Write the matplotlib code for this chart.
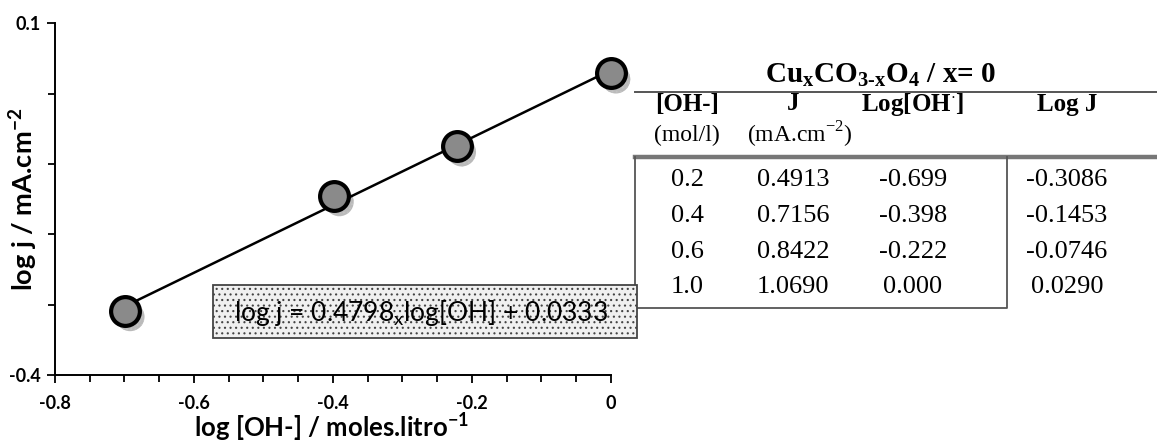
import numpy as np
import matplotlib
matplotlib.use("Agg")
import matplotlib.pyplot as plt
from matplotlib import transforms
from matplotlib.ticker import MultipleLocator, FixedLocator
from matplotlib.patches import Rectangle
from matplotlib.lines import Line2D

plt.rcParams['mathtext.fontset'] = 'custom'
plt.rcParams['mathtext.rm'] = 'Liberation Serif'
plt.rcParams['mathtext.bf'] = 'Liberation Serif:bold'
plt.rcParams['hatch.color'] = '#c4c4c4'
plt.rcParams['hatch.linewidth'] = 0.8

# Data table
oh_conc = ["0.2", "0.4", "0.6", "1.0"]
j_vals = ["0.4913", "0.7156", "0.8422", "1.0690"]
log_oh = [-0.699, -0.398, -0.222, 0.000]
log_j = [-0.3086, -0.1453, -0.0746, 0.0290]
log_oh_labels = ["-0.699", "-0.398", "-0.222", "0.000"]
log_j_labels = ["-0.3086", "-0.1453", "-0.0746", "0.0290"]

# Linear fit
slope = 0.4798
intercept = 0.0333

fig = plt.figure(figsize=(11.57, 4.45), dpi=100)
ax = fig.add_axes([0.0475, 0.157, 0.4805, 0.791])

sans = 'Lato'
serif = 'Liberation Serif'

x_fit = np.array([min(log_oh), max(log_oh)])
ax.plot(x_fit, slope * x_fit + intercept, color='black', lw=1.8, zorder=2,
        clip_on=False)

shadow = transforms.offset_copy(ax.transData, fig=fig, x=5, y=-6, units='dots')
ax.scatter(log_oh, log_j, s=430, color='#bababa', edgecolors='none',
           transform=shadow, zorder=1, hatch='....', clip_on=False)
ax.scatter(log_oh, log_j, s=430, color='#8a8a8a', edgecolors='black',
           linewidths=3.0, zorder=3, clip_on=False)

ax.set_xlim(-0.8, 0.0)
ax.set_ylim(-0.4, 0.1)
ax.xaxis.set_major_locator(FixedLocator([-0.8, -0.6, -0.4, -0.2, 0.0]))
ax.xaxis.set_minor_locator(MultipleLocator(0.05))
ax.yaxis.set_major_locator(FixedLocator([-0.4, 0.1]))
ax.yaxis.set_minor_locator(MultipleLocator(0.1))
ax.set_xticklabels(["-0.8", "-0.6", "-0.4", "-0.2", "0"])
ax.set_yticklabels(["-0.4", "0.1"])
for s in ('top', 'right'):
    ax.spines[s].set_visible(False)
for s in ('left', 'bottom'):
    ax.spines[s].set_linewidth(1.4)
ax.tick_params(axis='both', which='both', direction='out', width=1.3,
               labelsize=13)
ax.tick_params(which='major', length=6)
ax.tick_params(which='minor', length=5)
for lab in ax.get_xticklabels() + ax.get_yticklabels():
    lab.set_fontfamily(sans)
    lab.set_fontweight('bold')
ax.tick_params(axis='x', pad=8)
ax.tick_params(axis='y', pad=4)

ax.set_xlabel("log [OH-] / moles.litro$^{\\mathregular{-1}}$", fontsize=18.5,
              fontfamily=sans, fontweight='bold')
ax.xaxis.label.set_va('center')
ax.xaxis.set_label_coords(0.497, -0.148)
ax.set_ylabel("log j / mA.cm$^{\\mathregular{-2}}$", fontsize=19.5,
              fontfamily=sans, fontweight='bold')
ax.yaxis.label.set_va('center')
ax.yaxis.set_label_coords(-0.056, 0.5)

# Equation box
fig.patches.append(Rectangle((213 / 1157, 1 - 338 / 445), 424 / 1157, 53 / 445,
                             transform=fig.transFigure, facecolor='#f0f0f0',
                             edgecolor='#444444', lw=1.3, hatch='...',
                             zorder=5))
fig.text(421 / 1157, 1 - 313 / 445, "log j = 0.4798$_{\\mathregular{x}}$log[OH] + 0.0333",
         fontsize=19, fontfamily=sans, ha='center', va='center', zorder=6)

# Table
def fx(px):
    return px / 1157

def fy(py):
    return 1 - py / 445

fig.text(fx(880), fy(75),
         r"Cu$_{\mathbf{x}}$CO$_{\mathbf{3\text{-}x}}$O$_{\mathbf{4}}$ / x= 0",
         fontsize=21, fontfamily=serif, fontweight='bold', ha='center', va='center')
fig.add_artist(Line2D([fx(635), fx(1157)], [fy(92), fy(92)], color='#555555', lw=1.4))

cols = [687, 793, 913, 1067]
headers = ["[OH-]", "J", "Log[OH$^{\\cdot}$]", "Log J"]
for cx, h in zip(cols, headers):
    fig.text(fx(cx), fy(104), h, fontsize=18, fontfamily=serif, fontweight='bold',
             ha='center', va='center')
fig.text(fx(687), fy(135), "(mol/l)", fontsize=17, fontfamily=serif,
         ha='center', va='center')
fig.text(fx(800), fy(135), "(mA.cm$^{\\mathregular{-2}}$)", fontsize=17, fontfamily=serif,
         ha='center', va='center')

fig.add_artist(Line2D([fx(635), fx(1157)], [fy(157), fy(157)], color='#777777', lw=3.2))
fig.add_artist(Line2D([fx(635), fx(635), fx(1007), fx(1007)],
                      [fy(157), fy(308), fy(308), fy(157)], color='#555555', lw=1.3))

row_y = [180, 216, 252, 287]
for i, ry in enumerate(row_y):
    vals = [oh_conc[i], j_vals[i], log_oh_labels[i], log_j_labels[i]]
    for cx, v in zip(cols, vals):
        fig.text(fx(cx), fy(ry), v, fontsize=19, fontfamily=serif,
                 ha='center', va='center')

fig.savefig("out.png", dpi=100)
